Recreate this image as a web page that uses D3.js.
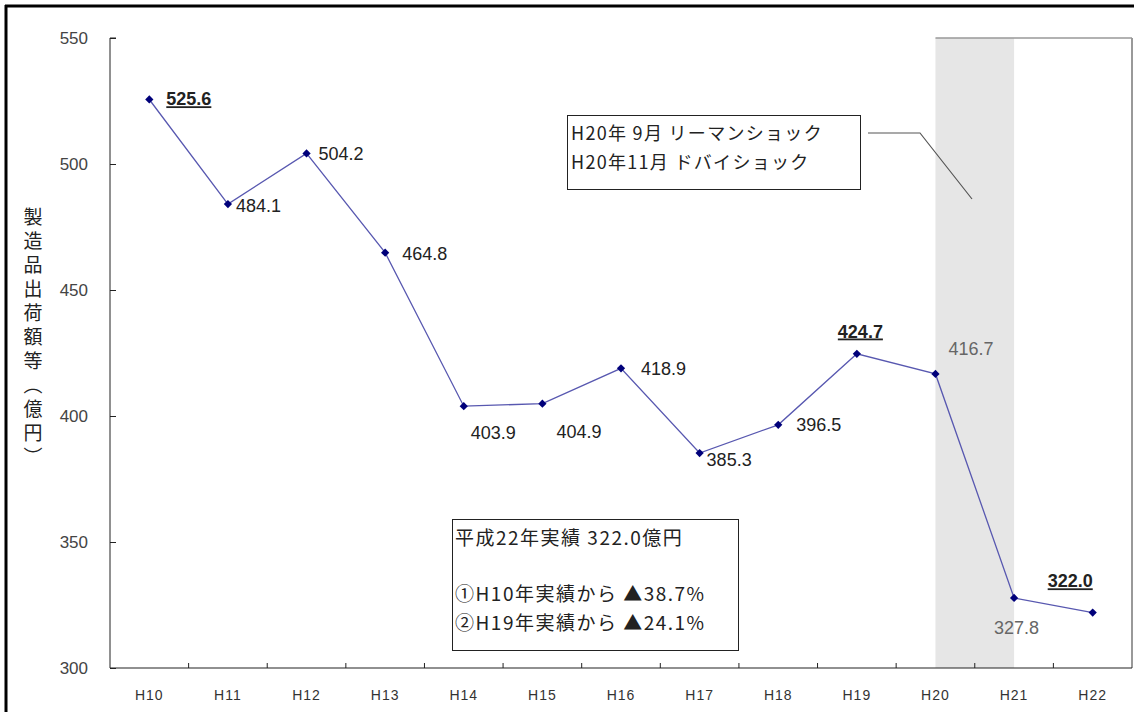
<!DOCTYPE html>
<html lang="ja">
<head>
<meta charset="utf-8">
<script src="https://d3js.org/d3.v7.min.js"></script>
<style>
  body { margin: 0; background: #fff; }
  svg text { font-family: "Liberation Sans", "Noto Sans CJK JP", sans-serif; }
  .jp { font-family: "Noto Sans CJK JP", sans-serif; }
</style>
</head>
<body>
<svg id="chart" width="1134" height="712"></svg>
<script>
// data
const years = ["H10","H11","H12","H13","H14","H15","H16","H17","H18","H19","H20","H21","H22"];
const values = [525.6, 484.1, 504.2, 464.8, 403.9, 404.9, 418.9, 385.3, 396.5, 424.7, 416.7, 327.8, 322.0];
const yTicks = [300, 350, 400, 450, 500, 550];
// label offsets (dx, dy) from point, bold = highlighted value
const labelPos = [[17,1,1],[8,3,0],[12,2,0],[17,3,0],[7,28,0],[14,30,0],[20,2,0],[7,8,0],[18,1,0],[-19,-21,1],[13,-24,0],[-20,31,0],[-45,-30,1]];
const grayLabels = ["H20","H21"];

const svg = d3.select("#chart");
const margin = {left: 110, right: 1132, top: 38, bottom: 668};

const x = d3.scaleBand().domain(years).range([margin.left, margin.right]);
const y = d3.scaleLinear().domain([300, 550]).range([margin.bottom, margin.top]);
const cx = d => x(d) + x.bandwidth() / 2;

// outer frame (left + top)
svg.append("line").attr("x1", 6).attr("x2", 6).attr("y1", 5).attr("y2", 712)
  .attr("stroke", "#000").attr("stroke-width", 3);
svg.append("line").attr("x1", 5).attr("x2", 1134).attr("y1", 6).attr("y2", 6)
  .attr("stroke", "#000").attr("stroke-width", 3);

// shaded period H20 -> H21
svg.append("rect")
  .attr("x", cx("H20")).attr("y", margin.top)
  .attr("width", cx("H21") - cx("H20")).attr("height", margin.bottom - margin.top)
  .attr("fill", "#e6e6e6");

// right / top plot border
svg.append("line").attr("x1", margin.right).attr("x2", margin.right)
  .attr("y1", margin.top).attr("y2", margin.bottom)
  .attr("stroke", "#999").attr("stroke-width", 2);
svg.append("line").attr("x1", cx("H20")).attr("x2", margin.right)
  .attr("y1", margin.top).attr("y2", margin.top)
  .attr("stroke", "#999").attr("stroke-width", 1.5);

// y axis
const yAxis = svg.append("g").attr("transform", `translate(${margin.left},0)`)
  .call(d3.axisRight(y).tickValues(yTicks).tickSize(6).tickFormat(d3.format("d")));
yAxis.select(".domain").attr("stroke", "#222").attr("d", `M6,${margin.top}H0V${margin.bottom}`);
yAxis.selectAll(".tick line").attr("stroke", "#222");
yAxis.selectAll(".tick text")
  .attr("x", -22).attr("text-anchor", "end")
  .attr("font-size", 17).attr("fill", "#444");

// x axis
const xAxis = svg.append("g").attr("transform", `translate(0,${margin.bottom})`);
xAxis.append("line").attr("x1", margin.left).attr("x2", margin.right)
  .attr("stroke", "#222").attr("stroke-width", 1.2);
xAxis.selectAll(".xt").data(years.slice(1)).join("line")
  .attr("x1", d => x(d)).attr("x2", d => x(d)).attr("y1", 0).attr("y2", -5)
  .attr("stroke", "#222");
xAxis.selectAll(".xl").data(years).join("text")
  .attr("x", d => cx(d)).attr("y", 32)
  .attr("text-anchor", "middle").attr("font-size", 14).attr("fill", "#333")
  .attr("letter-spacing", 1)
  .text(d => d);

// y axis title (vertical)
svg.append("text").attr("class", "jp")
  .attr("x", 33).attr("y", 207)
  .attr("font-size", 19).attr("fill", "#222")
  .style("writing-mode", "vertical-rl")
  .style("letter-spacing", "5px")
  .text("製造品出荷額等（億円）");

// line
const line = d3.line().x((d, i) => cx(years[i])).y(d => y(d));
svg.append("path").datum(values)
  .attr("d", line).attr("fill", "none")
  .attr("stroke", "#5858b0").attr("stroke-width", 1.3);

// markers
svg.selectAll(".pt").data(values).join("path")
  .attr("d", d3.symbol(d3.symbolSquare, 34))
  .attr("transform", (d, i) => `translate(${cx(years[i])},${y(d)}) rotate(45)`)
  .attr("fill", "#00007a");

// labels
svg.selectAll(".lbl").data(values).join("text")
  .attr("x", (d, i) => cx(years[i]) + labelPos[i][0])
  .attr("y", (d, i) => y(d) + labelPos[i][1])
  .attr("font-size", 18)
  .attr("fill", (d, i) => grayLabels.includes(years[i]) ? "#666" : "#222")
  .attr("text-decoration", (d, i) => labelPos[i][2] ? "underline" : null)
  .attr("font-weight", (d, i) => labelPos[i][2] ? "bold" : null)
  .attr("dominant-baseline", "middle")
  .text(d => d.toFixed(1));

// annotation 1
svg.append("rect").attr("x", 567.5).attr("y", 115.5).attr("width", 293).attr("height", 74)
  .attr("fill", "#fff").attr("stroke", "#222");
const note1 = ["H20年 9月 リーマンショック", "H20年11月 ドバイショック"];
svg.selectAll(".n1").data(note1).join("text").attr("class", "jp")
  .attr("x", 571).attr("y", (d, i) => 140 + i * 29)
  .attr("font-size", 18).attr("fill", "#222")
  .attr("letter-spacing", 1.3)
  .style("white-space", "pre")
  .text(d => d);
svg.append("polyline")
  .attr("points", "868,133 920,133 972,199")
  .attr("fill", "none").attr("stroke", "#555").attr("stroke-width", 1.2);

// annotation 2
svg.append("rect").attr("x", 452.5).attr("y", 519.5).attr("width", 286).attr("height", 131)
  .attr("fill", "#fff").attr("stroke", "#222");
const note2 = [["平成22年実績 322.0億円", 545], ["①H10年実績から ▲38.7%", 601], ["②H19年実績から ▲24.1%", 630]];
svg.selectAll(".n2").data(note2).join("text").attr("class", "jp")
  .attr("x", 455).attr("y", d => d[1])
  .attr("font-size", 19).attr("fill", "#222")
  .attr("letter-spacing", 1.5)
  .style("white-space", "pre")
  .text(d => d[0]);
</script>
</body>
</html>
